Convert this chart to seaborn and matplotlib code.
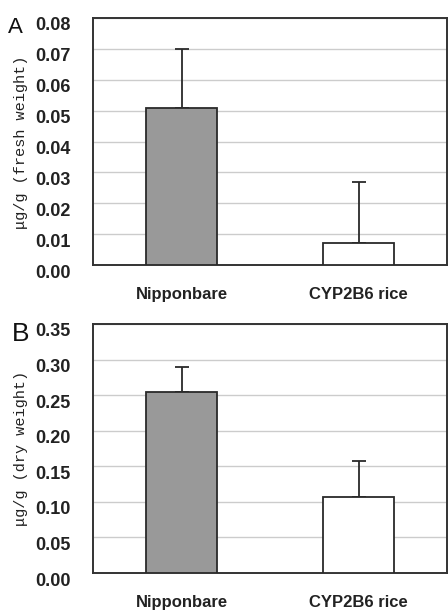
import matplotlib
matplotlib.use("Agg")
import matplotlib.pyplot as plt
import matplotlib.transforms as mtrans
import seaborn as sns
import pandas as pd

categories = ["Nipponbare", "CYP2B6 rice"]
fresh_values = [0.051, 0.007]
fresh_errors = [0.019, 0.020]
dry_values = [0.255, 0.107]
dry_errors = [0.035, 0.050]
fresh_ticks = [0.00, 0.01, 0.02, 0.03, 0.04, 0.05, 0.06, 0.07, 0.08]
dry_ticks = [0.00, 0.05, 0.10, 0.15, 0.20, 0.25, 0.30, 0.35]
bar_colors = ["#999999", "#ffffff"]

sns.set_theme(style="white")
plt.rcParams["font.family"] = ["Liberation Sans", "DejaVu Sans"]

fig = plt.figure(figsize=(4.48, 6.12), dpi=100)
W, H = 448, 612

def add_axes(top, bottom):
    return fig.add_axes([93 / W, 1 - bottom / H, (447 - 93) / W, (bottom - top) / H])

panels = [
    (add_axes(18, 265), fresh_values, fresh_errors, fresh_ticks, "μg/g (fresh weight)", "A", 16, 8, 17, 142),
    (add_axes(324, 573), dry_values, dry_errors, dry_ticks, "μg/g (dry weight)", "B", 19, 12, 322, 448),
]

for ax, vals, errs, ticks, ylab, letter, lsize, lx, ly, ylab_y in panels:
    df = pd.DataFrame({"cat": categories, "val": vals})
    sns.barplot(data=df, x="cat", y="val", hue="cat", palette=bar_colors,
                width=0.4, edgecolor="#2a2a2a", linewidth=1.3, ax=ax,
                legend=False, zorder=3)
    ax.errorbar(range(len(categories)), vals, yerr=[[0] * len(errs), errs],
                fmt="none", ecolor="#2a2a2a", elinewidth=1.3, capsize=5,
                capthick=1.3, zorder=2)
    ax.set_xlim(-0.5, 1.5)
    ax.set_ylim(ticks[0], ticks[-1])
    ax.set_yticks(ticks)
    ax.set_yticklabels([f"{t:.2f}" for t in ticks], fontsize=13, fontweight="bold",
                       color="#222222")
    ax.set_xticks(range(len(categories)))
    ax.set_xticklabels(categories, fontsize=12, fontweight="bold", color="#222222")
    ax.tick_params(axis="y", length=0, pad=16)
    ax.tick_params(axis="x", length=0, pad=16)
    ax.set_xticks([0.5], minor=True)
    ax.tick_params(axis="x", which="minor", direction="in", length=4,
                   color="#bbbbbb", width=1)
    off = mtrans.ScaledTranslation(0, -6 / 100, fig.dpi_scale_trans)
    for lbl in ax.get_yticklabels():
        lbl.set_transform(lbl.get_transform() + off)
    ax.grid(axis="y", color="#cccccc", linewidth=1.0, zorder=0)
    ax.set_axisbelow(True)
    for s in ax.spines.values():
        s.set_visible(True)
        s.set_color("#333333")
        s.set_linewidth(1.4)
    ax.set_xlabel("")
    ax.set_ylabel("")
    fig.text(21 / W, 1 - ylab_y / H, ylab, rotation=90, ha="center", va="center",
             fontsize=11, family=["Liberation Mono", "DejaVu Sans Mono"],
             color="#222222")
    fig.text(lx / W, 1 - ly / H, letter, ha="left", va="top", fontsize=lsize,
             color="#111111")

fig.savefig("out.png", dpi=100)
